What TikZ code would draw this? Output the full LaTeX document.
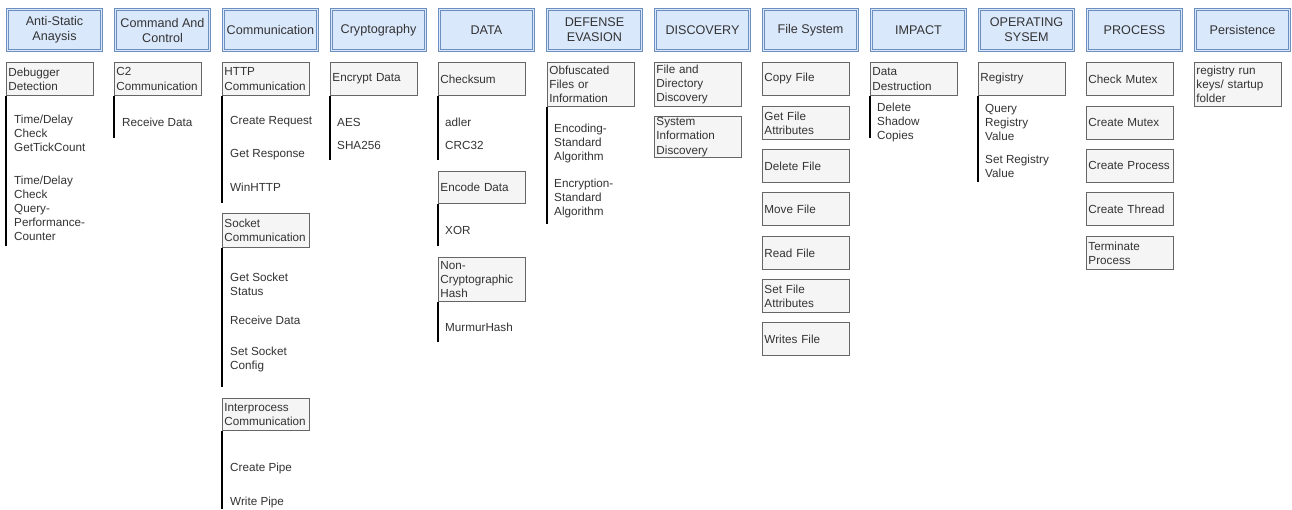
\documentclass[tikz,border=0pt]{standalone}
\usepackage{fontspec}
\setmainfont{Liberation Sans}
\hyphenpenalty=10000
\exhyphenpenalty=10000
\definecolor{hdrfill}{HTML}{DAE8FC}
\definecolor{hdrline}{HTML}{6C8EBF}
\definecolor{subfill}{HTML}{F5F5F5}
\definecolor{subline}{HTML}{666666}
\definecolor{txt}{HTML}{333333}
\tikzset{
  hdr/.style={draw=hdrline, line width=0.8pt, double=hdrfill, double distance=1.6pt,
    fill=hdrfill, minimum width=94pt, minimum height=41pt, align=center, inner sep=1pt,
    text=txt, font=\fontsize{12.6}{15}\selectfont},
  sub/.style={draw=subline, line width=0.9pt, fill=subfill, anchor=north west,
    text width=83pt, inner xsep=2pt, inner ysep=1pt, align=left, text=txt,
    font=\fontsize{11.7}{14.2}\selectfont},
  det/.style={anchor=west, inner sep=0pt, align=left, text=txt,
    font=\fontsize{11.7}{14}\selectfont},
  leg/.style={draw=black, line width=1.2pt}
}
\begin{document}
\begin{tikzpicture}[x=1pt, y=-1pt]
\fill[white] (0,0) rectangle (1292,509);
\useasboundingbox (0,0) rectangle (1292,509);

% ---- category headers ----
\node[hdr] (h0)  at (54.5,30)  {Anti-Static\\Anaysis};
\node[hdr] (h1)  at (162.5,30) {Command And\\Control};
\node[hdr] (h2)  at (270.5,30) {Communication};
\node[hdr] (h3)  at (378.5,30) {Cryptography};
\node[hdr] (h4)  at (486.5,30) {DATA};
\node[hdr] (h5)  at (594.5,30) {DEFENSE\\EVASION};
\node[hdr] (h6)  at (702.5,30) {DISCOVERY};
\node[hdr] (h7)  at (810.5,30) {File System};
\node[hdr] (h8)  at (918.5,30) {IMPACT};
\node[hdr] (h9)  at (1026.5,30) {OPERATING\\SYSEM};
\node[hdr] (h10) at (1134.5,30) {PROCESS};
\node[hdr] (h11) at (1242.5,30) {Persistence};

% ---- Anti-Static Anaysis ----
\node[sub, minimum height=33pt] (dbg) at (6,62) {Debugger\\Detection};
\coordinate (dbgend) at (6,246);
\draw[leg] (dbg.south west) -- (dbgend);
\node[det] (dbg1) at (14,133) {Time/Delay\\Check\\GetTickCount};
\node[det] (dbg2) at (14,208.5) {Time/Delay\\Check\\Query-\\Performance-\\Counter};

% ---- Command And Control ----
\node[sub, minimum height=33pt] (ctwo) at (114,62) {C2\\Communication};
\coordinate (ctwoend) at (114,138);
\draw[leg] (ctwo.south west) -- (ctwoend);
\node[det] (ctwo1) at (122,122) {Receive Data};

% ---- Communication ----
\node[sub, minimum height=33pt] (http) at (222,62) {HTTP\\Communication};
\coordinate (httpend) at (222,203);
\draw[leg] (http.south west) -- (httpend);
\node[det] (http1) at (230,122) {Create Request};
\node[det] (http2) at (230,155) {Get Response};
\node[det] (http3) at (230,187) {WinHTTP};

\node[sub, minimum height=34pt] (sock) at (222,213) {Socket\\Communication};
\coordinate (sockend) at (222,387);
\draw[leg] (sock.south west) -- (sockend);
\node[det] (sock1) at (230,284.5) {Get Socket\\Status};
\node[det] (sock2) at (230,320) {Receive Data};
\node[det] (sock3) at (230,359.5) {Set Socket\\Config};

\node[sub, minimum height=32pt] (ipc) at (222,398) {Interprocess\\Communication};
\coordinate (ipcend) at (222,509);
\draw[leg] (ipc.south west) -- (ipcend);
\node[det] (ipc1) at (230,468) {Create Pipe};
\node[det] (ipc2) at (230,502) {Write Pipe};

% ---- Cryptography ----
\node[sub, minimum height=33pt] (enc) at (330,62) {Encrypt Data};
\coordinate (encend) at (330,160);
\draw[leg] (enc.south west) -- (encend);
\node[det] (enc1) at (337,122) {AES};
\node[det] (enc2) at (337,145) {SHA256};

% ---- DATA ----
\node[sub, minimum height=33pt] (chk) at (438,62) {Checksum};
\coordinate (chkend) at (438,160);
\draw[leg] (chk.south west) -- (chkend);
\node[det] (chk1) at (445,122) {adler};
\node[det] (chk2) at (445,145) {CRC32};

\node[sub, minimum height=32pt] (ecd) at (438,171) {Encode Data};
\coordinate (ecdend) at (438,246);
\draw[leg] (ecd.south west) -- (ecdend);
\node[det] (ecd1) at (445,230) {XOR};

\node[sub, minimum height=44pt] (nch) at (438,257) {Non-\\Cryptographic\\Hash};
\coordinate (nchend) at (438,342);
\draw[leg] (nch.south west) -- (nchend);
\node[det] (nch1) at (445,327) {MurmurHash};

% ---- DEFENSE EVASION ----
\node[sub, minimum height=44pt] (obf) at (547,62) {Obfuscated\\Files or\\Information};
\coordinate (obfend) at (547,224);
\draw[leg] (obf.south west) -- (obfend);
\node[det] (obf1) at (554,143) {Encoding-\\Standard\\Algorithm};
\node[det] (obf2) at (554,198) {Encryption-\\Standard\\Algorithm};

% ---- DISCOVERY ----
\node[sub, minimum height=44pt] (fdd) at (654,62) {File and\\Directory\\Discovery};
\node[sub, minimum height=36pt] (sid) at (654,116) {System\\Information\\Discovery};

% ---- File System ----
\node[sub, minimum height=33pt] (fs1) at (762,62)  {Copy File};
\node[sub, minimum height=33pt] (fs2) at (762,106) {Get File\\Attributes};
\node[sub, minimum height=33pt] (fs3) at (762,149) {Delete File};
\node[sub, minimum height=33pt] (fs4) at (762,192) {Move File};
\node[sub, minimum height=33pt] (fs5) at (762,236) {Read File};
\node[sub, minimum height=33pt] (fs6) at (762,279) {Set File\\Attributes};
\node[sub, minimum height=33pt] (fs7) at (762,322) {Writes File};

% ---- IMPACT ----
\node[sub, minimum height=33pt] (ddst) at (870,62) {Data\\Destruction};
\coordinate (ddstend) at (870,138);
\draw[leg] (ddst.south west) -- (ddstend);
\node[det] (ddst1) at (877,122) {Delete\\Shadow\\Copies};

% ---- OPERATING SYSEM ----
\node[sub, minimum height=33pt] (reg) at (978,62) {Registry};
\coordinate (regend) at (978,182);
\draw[leg] (reg.south west) -- (regend);
\node[det] (reg1) at (985,122) {Query\\Registry\\Value};
\node[det] (reg2) at (985,166) {Set Registry\\Value};

% ---- PROCESS ----
\node[sub, minimum height=33pt] (pr1) at (1086,62)  {Check Mutex};
\node[sub, minimum height=33pt] (pr2) at (1086,106) {Create Mutex};
\node[sub, minimum height=33pt] (pr3) at (1086,149) {Create Process};
\node[sub, minimum height=33pt] (pr4) at (1086,192) {Create Thread};
\node[sub, minimum height=33pt] (pr5) at (1086,236) {Terminate\\Process};

% ---- Persistence ----
\node[sub, minimum height=44pt] (run) at (1194,62) {registry run\\keys/ startup\\folder};
\end{tikzpicture}
\end{document}
